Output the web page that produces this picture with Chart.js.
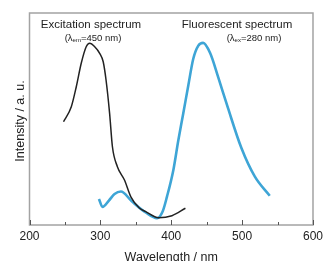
<!DOCTYPE html>
<html>
<head>
<meta charset="utf-8">
<script src="https://cdn.jsdelivr.net/npm/chart.js@4"></script>
<style>
html,body{margin:0;padding:0;background:#fff;}
#wrap{width:327px;height:261px;position:relative;}
</style>
</head>
<body>
<div id="wrap"><canvas id="c" width="327" height="261"></canvas></div>
<script>
// Excitation spectrum (lambda_em = 450 nm)
const exWavelength = [248, 259, 266, 273, 280, 285, 292, 299, 304, 308, 313, 317, 324, 334, 343, 355, 364, 382, 401, 420];
const exIntensity  = [48.7, 55.8, 65.2, 76.3, 84.1, 85.7, 84.1, 81, 77, 68.4, 52.8, 36.9, 27.5, 21.2, 13.3, 8, 6.3, 3.4, 4.4, 7.9];
// Fluorescent spectrum (lambda_ex = 280 nm)
const flWavelength = [298, 303, 312, 320, 329, 344, 364, 380, 388, 394, 403, 410, 417, 424, 431, 438, 445, 455, 466, 480, 499, 518, 539];
const flIntensity  = [12.3, 8.5, 11.5, 14.6, 15.8, 11.3, 5.9, 3.2, 6.5, 13.4, 26, 40, 52.7, 65.7, 78.3, 84.5, 85.9, 81, 70, 55.2, 36.3, 22.8, 13.8];
const xTickValues = [200, 300, 400, 500, 600];
const minorTickValues = [250, 350, 450, 550];

const toPts = (xs, ys) => xs.map((x, i) => ({x: x, y: ys[i]}));

const framePlugin = {
  id: 'frame',
  afterDraw(chart) {
    const ctx = chart.ctx, a = chart.chartArea, xs = chart.scales.x;
    ctx.save();
    ctx.strokeStyle = '#a3a3a3';
    ctx.lineWidth = 1.5;
    ctx.strokeRect(a.left, a.top, a.right - a.left, a.bottom - a.top);
    ctx.strokeStyle = '#555';
    ctx.lineWidth = 1;
    xTickValues.forEach(v => {
      const px = Math.round(xs.getPixelForValue(v)) + 0.5;
      ctx.beginPath(); ctx.moveTo(px, a.bottom); ctx.lineTo(px, a.bottom - 5); ctx.stroke();
    });
    minorTickValues.forEach(v => {
      const px = Math.round(xs.getPixelForValue(v)) + 0.5;
      ctx.beginPath(); ctx.moveTo(px, a.bottom); ctx.lineTo(px, a.bottom - 3); ctx.stroke();
    });
    // texts
    ctx.fillStyle = '#222';
    ctx.textAlign = 'center';
    ctx.textBaseline = 'middle';
    ctx.font = '11.5px "Liberation Sans", Arial, sans-serif';
    ctx.fillText('Excitation spectrum', 91, 25);
    ctx.fillText('Fluorescent spectrum', 237, 25);
    const sub = (cx, cy, s) => {
      const f1 = '9.5px "Liberation Sans", Arial, sans-serif';
      const f2 = '6px "Liberation Sans", Arial, sans-serif';
      ctx.font = f1; const w1 = ctx.measureText('(λ').width; const w3 = ctx.measureText('=' + s.v + ' nm)').width;
      ctx.font = f2; const w2 = ctx.measureText(s.sub).width;
      let x = cx - (w1 + w2 + w3) / 2;
      ctx.textAlign = 'left';
      ctx.font = f1; ctx.fillText('(λ', x, cy); x += w1;
      ctx.font = f2; ctx.fillText(s.sub, x, cy + 2); x += w2;
      ctx.font = f1; ctx.fillText('=' + s.v + ' nm)', x, cy);
      ctx.textAlign = 'center';
    };
    sub(93, 38, {sub: 'em', v: '450'});
    sub(254, 38, {sub: 'ex', v: '280'});
    // axis titles
    ctx.font = '12.5px "Liberation Sans", Arial, sans-serif';
    ctx.textBaseline = 'alphabetic';
    ctx.fillText('Wavelength / nm', (a.left + a.right) / 2, 260.5);
    ctx.translate(24, (a.top + a.bottom) / 2 + 2);
    ctx.rotate(-Math.PI / 2);
    ctx.fillText('Intensity / a. u.', 0, 0);
    ctx.restore();
  }
};

new Chart(document.getElementById('c'), {
  type: 'line',
  data: {
    datasets: [
      {label: 'Excitation', data: toPts(exWavelength, exIntensity), borderColor: '#222', borderWidth: 1.5, pointRadius: 0, cubicInterpolationMode: 'monotone', fill: false},
      {label: 'Fluorescent', data: toPts(flWavelength, flIntensity), borderColor: 'rgb(62,165,214)', borderWidth: 2.6, pointRadius: 0, cubicInterpolationMode: 'monotone', fill: false}
    ]
  },
  options: {
    responsive: false,
    animation: false,
    layout: {padding: {left: 29.5, right: 11.5, top: 13, bottom: 0}},
    plugins: {legend: {display: false}, tooltip: {enabled: false}},
    scales: {
      x: {
        type: 'linear', min: 200, max: 600,
        grid: {display: false, drawTicks: false},
        border: {display: false},
        afterBuildTicks(s) { s.ticks = xTickValues.map(v => ({value: v})); },
        afterFit(s) { s.height = 36; },
        ticks: {padding: 4, color: '#222', font: {size: 12, family: '"Liberation Sans", Arial, sans-serif'}, maxRotation: 0, autoSkip: false}
      },
      y: {type: 'linear', min: 0, max: 100, display: false}
    }
  },
  plugins: [framePlugin]
});
</script>
</body>
</html>
